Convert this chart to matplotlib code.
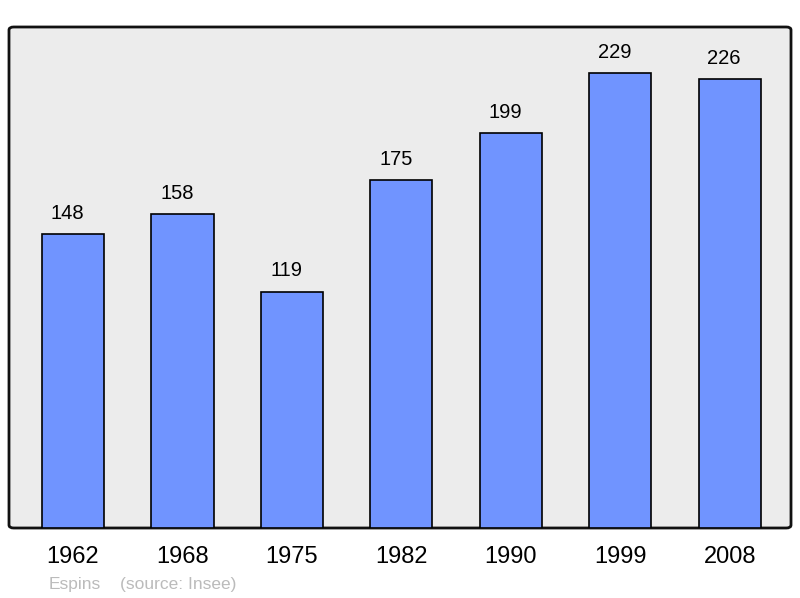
import matplotlib
matplotlib.use("Agg")
import matplotlib.pyplot as plt
from matplotlib.patches import FancyBboxPatch

years = ["1962", "1968", "1975", "1982", "1990", "1999", "2008"]
population = [148, 158, 119, 175, 199, 229, 226]

plt.rcParams['font.family'] = ['Liberation Sans', 'DejaVu Sans']

fig = plt.figure(figsize=(8, 5.98), dpi=100)
ax = fig.add_axes([9/800, 1-528/598, 782/800, 501/598])
ax.set_facecolor('none')

x = list(range(len(years)))
bars = ax.bar(x, population, width=0.567, color='#7094ff', edgecolor='black', linewidth=1.2, zorder=2)
for xi, v in zip(x, population):
    ax.annotate(str(v), (xi, v), xytext=(-4, 8), textcoords='offset points',
                ha='center', va='bottom', fontsize=14.5)

ax.set_xlim(-0.585, 6.56)
ax.set_ylim(0, 252.2)
ax.set_xticks(x)
ax.set_xticklabels(years, fontsize=17)
ax.tick_params(axis='x', length=0, pad=13)
ax.set_yticks([])
for s in ax.spines.values():
    s.set_visible(False)

frame = FancyBboxPatch((0, 0), 1, 1, boxstyle="round,pad=0,rounding_size=0.006",
                       transform=ax.transAxes, facecolor='#ececec', edgecolor='#111111',
                       linewidth=2, zorder=0, clip_on=False)
ax.add_patch(frame)

fig.text(49/800, 1-584/598, "Espins", color='#bbbbbb', fontsize=12.5, ha='left', va='center')
fig.text(120/800, 1-584/598, "(source: Insee)", color='#bbbbbb', fontsize=12.5, ha='left', va='center')

fig.savefig("out.png", dpi=100)
